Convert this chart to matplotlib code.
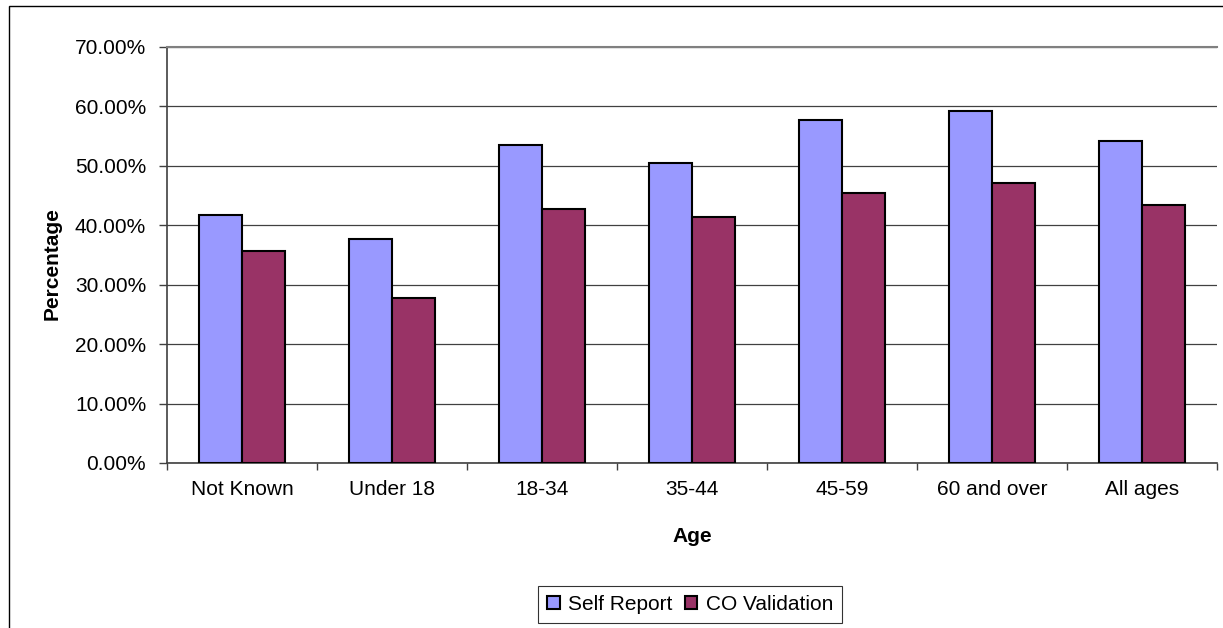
import matplotlib
matplotlib.use("Agg")
import matplotlib.pyplot as plt
from matplotlib.patches import Rectangle
from matplotlib.ticker import FixedLocator, PercentFormatter
import numpy as np

categories = ["Not Known", "Under 18", "18-34", "35-44", "45-59", "60 and over", "All ages"]
self_report = [41.8, 37.7, 53.5, 50.4, 57.8, 59.2, 54.2]
co_validation = [35.7, 27.7, 42.7, 41.4, 45.4, 47.1, 43.4]
series_names = ["Self Report", "CO Validation"]
y_ticks = [0, 10, 20, 30, 40, 50, 60, 70]

plt.rcParams['font.family'] = ['Liberation Sans', 'DejaVu Sans']
FS = 15

W, H = 1223, 628
fig = plt.figure(figsize=(W / 100, H / 100), dpi=100)

# outer chart border
fig.patches.append(Rectangle((9 / W, -0.01), (W + 10) / W, 1 - 6 / H + 0.01, transform=fig.transFigure,
                             fill=False, edgecolor='black', linewidth=1.0, zorder=0))

ax = fig.add_axes([167 / W, 1 - 463 / H, (1217 - 167) / W, (463 - 47) / H])

x = np.arange(len(categories))
bw = 0.287
ax.bar(x - bw / 2, self_report, bw, color='#9999FF', edgecolor='black', linewidth=1.5,
       label=series_names[0], zorder=3)
ax.bar(x + bw / 2, co_validation, bw, color='#993366', edgecolor='black', linewidth=1.5,
       label=series_names[1], zorder=3)

ax.set_xlim(-0.5, len(categories) - 0.5)
ax.set_ylim(0, 70)
ax.set_yticks(y_ticks)
ax.yaxis.set_major_formatter(PercentFormatter(decimals=2))
ax.yaxis.grid(True, color='#404040', linewidth=0.9, zorder=0)
ax.set_axisbelow(True)

ax.set_xticks(x)
ax.set_xticklabels(categories, fontsize=FS)
ax.xaxis.set_minor_locator(FixedLocator(np.arange(-0.5, len(categories), 1.0)))
ax.tick_params(axis='x', which='major', length=0, pad=12)
ax.tick_params(axis='x', which='minor', length=5, color='#404040', width=1)
ax.tick_params(axis='y', length=6, color='#404040', width=1, labelsize=FS, pad=9)

ax.spines['right'].set_visible(False)
ax.spines['top'].set_color('#808080')
ax.spines['top'].set_linewidth(1.5)
ax.spines['left'].set_color('#404040')
ax.spines['bottom'].set_color('#404040')
ax.spines['left'].set_linewidth(1.2)
ax.spines['bottom'].set_linewidth(1.2)

fig.text(52 / W, 1 - 264 / H, "Percentage", rotation=90, fontsize=FS, fontweight='bold',
         ha='center', va='center')
fig.text(692 / W, 1 - 536 / H, "Age", fontsize=FS, fontweight='bold', ha='center', va='center')

leg = fig.legend(loc='center', bbox_to_anchor=(690 / W, 1 - 604.5 / H), ncol=2, fontsize=FS,
                 frameon=True, fancybox=False, edgecolor='black', handlelength=0.6,
                 handleheight=0.6, handletextpad=0.4, columnspacing=0.6, borderpad=0.45,
                 borderaxespad=0)
leg.get_frame().set_linewidth(0.8)

fig.savefig("out.png", dpi=100)
